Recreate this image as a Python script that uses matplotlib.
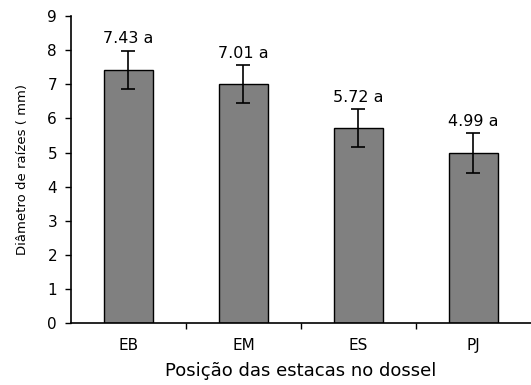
import matplotlib
matplotlib.use("Agg")
import matplotlib.pyplot as plt
import numpy as np

plt.rcParams['font.family'] = ['DejaVu Sans']

categories = ["EB", "EM", "ES", "PJ"]
means = [7.43, 7.01, 5.72, 4.99]
errors = [0.56, 0.56, 0.56, 0.58]
letters = ["a", "a", "a", "a"]
yticks = [0, 1, 2, 3, 4, 5, 6, 7, 8, 9]

fig = plt.figure(figsize=(5.31, 3.85), dpi=100)
ax = fig.add_axes([0.1337, 0.161, 0.866, 0.797])

x = np.arange(len(categories))
ax.bar(x, means, width=0.42, color="#808080", edgecolor="black", linewidth=1.0,
       yerr=errors, error_kw=dict(ecolor="black", elinewidth=1.2, capsize=5, capthick=1.2))

for xi, m, e, l in zip(x, means, errors, letters):
    ax.annotate(f"{m:.2f} {l}", xy=(xi, m + e), xytext=(0, 3), textcoords="offset points",
                ha="center", va="bottom", fontsize=11.5)

ax.set_xlim(-0.5, 3.5)
ax.set_ylim(0, 9)
ax.set_yticks(yticks)
ax.tick_params(axis="y", direction="out", length=4, width=1, labelsize=11, pad=6)

ax.set_xticks(x)
ax.set_xticklabels(categories, fontsize=11)
ax.tick_params(axis="x", length=0, pad=11)
ax.set_xticks(np.arange(0.5, 3.5, 1.0), minor=True)
ax.tick_params(axis="x", which="minor", direction="out", length=4, width=1)

ax.spines["top"].set_visible(False)
ax.spines["right"].set_visible(False)
ax.spines["left"].set_linewidth(1.2)
ax.spines["bottom"].set_linewidth(1.2)

ax.set_ylabel("Diâmetro de raízes ( mm)", fontsize=9.5, labelpad=13)
ax.set_xlabel("Posição das estacas no dossel", fontsize=13, labelpad=6)

fig.savefig("out.png", dpi=100)
